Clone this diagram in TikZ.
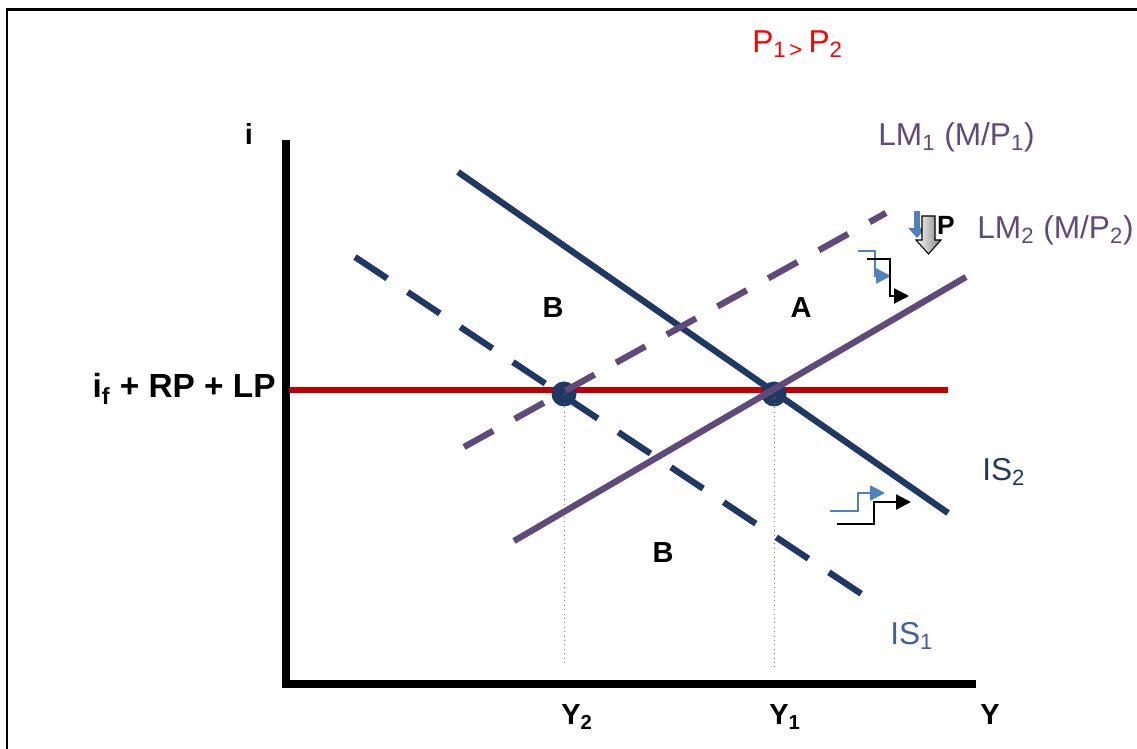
\documentclass[tikz,border=0pt]{standalone}
\usepackage{fontspec}
\setmainfont{Liberation Sans}
\usetikzlibrary{arrows.meta}
\usepackage{xcolor}
\definecolor{isnavy}{HTML}{1F3864}
\definecolor{lmpurple}{HTML}{604A7B}
\definecolor{ratered}{HTML}{C00000}
\definecolor{stepblue}{HTML}{4F81BD}
\definecolor{islabel}{HTML}{3F5F9F}

\begin{document}
\begin{tikzpicture}[x=0.02cm,y=-0.02cm,>={Triangle[length=3mm,width=3mm]},
  lbl/.style={font=\fontsize{18}{20}\selectfont,inner sep=0pt},
  bold/.style={font=\fontsize{16.5}{18}\selectfont\bfseries,inner sep=0pt},
  curve/.style={line width=3.6pt},
  dashcurve/.style={curve,dash pattern=on 19pt off 14pt},
  dot/.style={circle,fill=isnavy,minimum size=0.5cm,inner sep=0pt},
  stepline/.style={line width=1.3pt,->}]
\useasboundingbox (0,0) rectangle (1137,749);
\draw[line width=1.7pt] (7,749) -- (7,10) -- (1137,10);
% axes
\coordinate (itop) at (286,140);
\coordinate (o) at (286,684);
\coordinate (yend) at (976,684);
\draw[line width=4pt] (itop) -- (o) -- (yend);
\node[bold,anchor=base] (ilab) at (249,145) {i};
\node[bold,anchor=base west] (ylab) at (980,725) {Y};
% interest rate line
\coordinate (r0) at (289,390);
\coordinate (r1) at (948,390);
\draw[ratered,line width=3.6pt] (r0) -- (r1);
\node[bold,font=\fontsize{19}{21}\selectfont\bfseries,anchor=base east] (rlab) at (276,398) {i\textsubscript{f} + RP + LP};
% equilibria
\node[dot] (e2) at (564,394) {};
\node[dot] (e1) at (774,394) {};
\coordinate (f2) at (564,664);
\coordinate (f1) at (774,670);
\draw[gray,line width=0.5pt,dotted] (e2.center) -- (f2);
\draw[gray,line width=0.5pt,dotted] (e1.center) -- (f1);
% IS curves
\coordinate (is2a) at (458,172);
\coordinate (is2b) at (948,513);
\coordinate (is1a) at (355,257);
\coordinate (is1b) at (866,597);
\draw[isnavy,curve] (is2a) -- (is2b);
\draw[isnavy,curve,dash pattern=on 22pt off 14pt] (is1a) -- (is1b);
% LM curves
\coordinate (lm2a) at (514,541);
\coordinate (lm2b) at (966,277);
\coordinate (lm1a) at (464,447);
\coordinate (lm1b) at (886,213);
\draw[lmpurple,curve] (lm2a) -- (lm2b);
\draw[lmpurple,dashcurve] (lm1a) -- (lm1b);
% labels
\node[bold,anchor=base] (bup) at (553,318) {B};
\node[bold,anchor=base] (aup) at (801,318) {A};
\node[bold,anchor=base] (bdown) at (663,563) {B};
\node[bold,anchor=base west] (y2lab) at (561,725) {Y\textsubscript{2}};
\node[bold,anchor=base west] (y1lab) at (769,725) {Y\textsubscript{1}};
\node[lbl,anchor=base west,text=isnavy] (is2lab) at (982,481) {IS\textsubscript{2}};
\node[lbl,anchor=base west,text=islabel] (is1lab) at (890,645) {IS\textsubscript{1}};
\node[lbl,anchor=base west,text=lmpurple] (lm1lab) at (878,146) {LM\textsubscript{1} (M/P\textsubscript{1})};
\node[lbl,anchor=base west,text=lmpurple] (lm2lab) at (977,239) {LM\textsubscript{2} (M/P\textsubscript{2})};
\node[lbl,anchor=base west,text=red] (plab) at (752,53) {P\textsubscript{1\,>}\,P\textsubscript{2}};
% price fall
\draw[stepblue,line width=3pt,-{Triangle[length=2mm,width=3.4mm]}] (917,211) -- (917,238);
\shade[left color=white,right color=gray,draw=black,line width=0.6pt]
  (922,216) -- (935,216) -- (935,240) -- (941,240) -- (928.5,254) -- (916,240) -- (922,240) -- cycle;
\node[bold,font=\fontsize{15}{17}\selectfont\bfseries,anchor=base] (pdown) at (946,235) {P};
% shift arrows
\draw[stepblue,stepline] (858,251) -- (875,251) -- (875,276) -- (891,276);
\draw[black,stepline] (867,259) -- (890,259) -- (890,296) -- (909,296);
\draw[stepblue,stepline] (830,511) -- (858,511) -- (858,493) -- (885,493);
\draw[black,stepline] (837,524) -- (874,524) -- (874,502) -- (911,502);
\end{tikzpicture}
\end{document}
